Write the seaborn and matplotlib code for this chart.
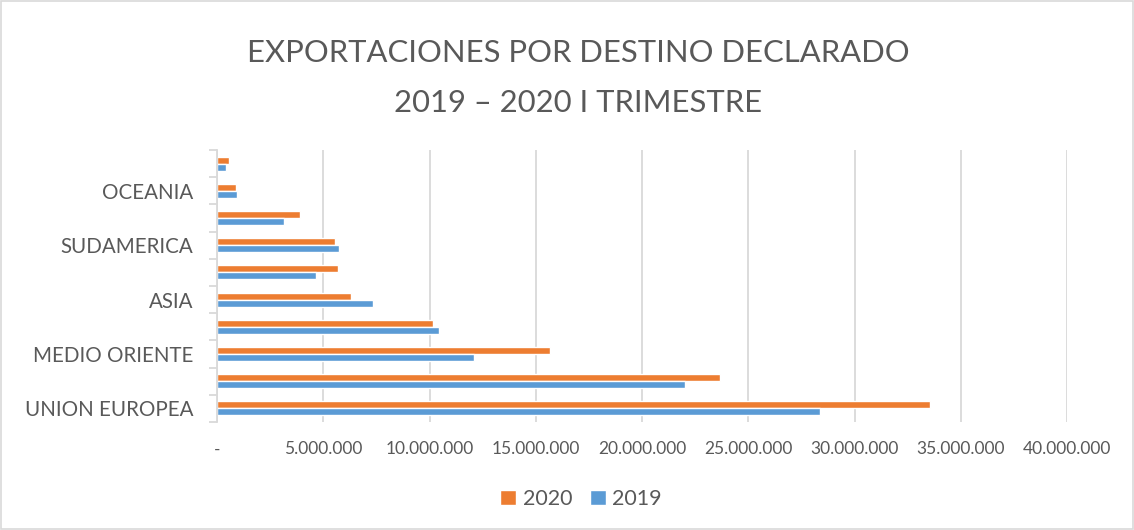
import numpy as np
import pandas as pd
import matplotlib
matplotlib.use("Agg")
import matplotlib.pyplot as plt
import seaborn as sns
from matplotlib.patches import Rectangle
from matplotlib.ticker import FuncFormatter, MultipleLocator

# Datos (orden de arriba hacia abajo, como en el grafico)
destinos = ["OTROS", "OCEANIA", "AFRICA", "SUDAMERICA", "CENTROAMERICA",
            "ASIA", "EUROPA NO UE", "MEDIO ORIENTE", "NORTEAMERICA", "UNION EUROPEA"]
mostrar = [False, True, False, True, False, True, False, True, False, True]
valores_2020 = [550000, 890000, 3890000, 5570000, 5690000,
                6310000, 10170000, 15690000, 23680000, 33550000]
valores_2019 = [420000, 950000, 3170000, 5730000, 4660000,
                7330000, 10470000, 12080000, 22020000, 28360000]
anios = ["2020", "2019"]

df = pd.DataFrame({
    "Destino": destinos * 2,
    "Anio": [anios[0]] * len(destinos) + [anios[1]] * len(destinos),
    "Valor": valores_2020 + valores_2019,
})

sns.set_theme(style="white")
plt.rcParams["font.family"] = ["Lato", "DejaVu Sans"]
gris = "#595959"

fig = plt.figure(figsize=(11.34, 5.30), dpi=100)
ax = fig.add_axes([217 / 1134, 1 - 422 / 530, 850 / 1134, 272 / 530])

sns.barplot(data=df, y="Destino", x="Valor", hue="Anio", hue_order=anios,
            order=destinos, palette={"2020": "#ED7D31", "2019": "#5B9BD5"},
            orient="h", width=0.52, ax=ax, saturation=1, legend=True)

ax.set_xlim(0, 40000000)
ax.set_ylim(len(destinos) - 0.5, -0.5)
ax.xaxis.set_major_locator(MultipleLocator(5000000))
ax.xaxis.set_major_formatter(FuncFormatter(
    lambda v, p: "-" if v == 0 else f"{int(v):,}".replace(",", ".")))
ax.grid(axis="x", color="#D9D9D9", linewidth=1.3)
ax.set_axisbelow(True)
for s in ["top", "right", "bottom"]:
    ax.spines[s].set_visible(False)
ax.spines["left"].set_color("#D9D9D9")
ax.spines["left"].set_linewidth(1.3)

ax.set_yticks([i for i, m in enumerate(mostrar) if m])
ax.set_yticklabels([d for d, m in zip(destinos, mostrar) if m], fontsize=14.8, color=gris)
ax.tick_params(axis="y", length=0, pad=17)
ax.set_yticks(np.arange(-0.5, len(destinos)), minor=True)
ax.tick_params(axis="y", which="minor", length=5.8, width=1.3, color="#D9D9D9", left=True)
ax.tick_params(axis="x", length=0, pad=14, labelsize=12.5, labelcolor=gris)
ax.set_xlabel("")
ax.set_ylabel("")

handles, labels = ax.get_legend_handles_labels()
ax.get_legend().remove()
fig.legend(handles, labels, loc="center", bbox_to_anchor=(581 / 1134, 1 - 499 / 530),
           ncol=2, frameon=False, fontsize=15.5, handlelength=0.75, handleheight=0.75,
           columnspacing=0.8, handletextpad=0.3, labelcolor=gris)

fig.text(578 / 1134, 1 - 62 / 530, "EXPORTACIONES POR DESTINO DECLARADO",
         ha="center", va="baseline", fontsize=22.3, color=gris)
fig.text(578 / 1134, 1 - 112 / 530, "2019 \u2013 2020 I TRIMESTRE",
         ha="center", va="baseline", fontsize=22.3, color=gris)

fig.patches.append(Rectangle((0.001, 0.001), 0.998, 0.997, transform=fig.transFigure,
                             fill=False, edgecolor="#D9D9D9", linewidth=1.2))

fig.savefig("out.png", dpi=100)
